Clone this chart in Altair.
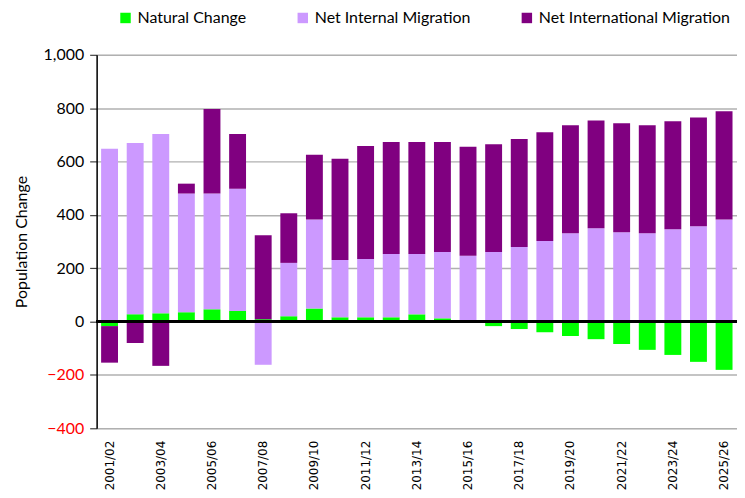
import altair as alt
import pandas as pd

years = ["2001/02", "2002/03", "2003/04", "2004/05", "2005/06", "2006/07", "2007/08",
         "2008/09", "2009/10", "2010/11", "2011/12", "2012/13", "2013/14", "2014/15",
         "2015/16", "2016/17", "2017/18", "2018/19", "2019/20", "2020/21", "2021/22",
         "2022/23", "2023/24", "2024/25", "2025/26"]

natural = [-17, 27, 31, 35, 46, 40, 9, 20, 49, 16, 16, 16, 27, 12, 1, -17, -28, -40,
           -54, -66, -84, -106, -125, -151, -181]
internal = [648, 642, 672, 445, 434, 458, -162, 200, 334, 215, 219, 237, 226, 249, 246,
            261, 280, 302, 331, 350, 335, 331, 346, 357, 383]
international = [-137, -80, -166, 37, 317, 205, 315, 186, 242, 379, 423, 420, 420, 412,
                 408, 404, 404, 408, 405, 404, 408, 405, 405, 408, 405]

series = ["Natural Change", "Net Internal Migration", "Net International Migration"]
colors = ["#00FF00", "#CC99FF", "#800080"]

rows = []
for i, y in enumerate(years):
    for k, (name, vals) in enumerate(zip(series, [natural, internal, international])):
        rows.append({"Year": y, "Component": name, "Value": vals[i], "order": k})
df = pd.DataFrame(rows)

bars = alt.Chart(df).mark_bar().encode(
    x=alt.X("Year:N", sort=years,
            scale=alt.Scale(paddingInner=0.34, paddingOuter=0.175),
            axis=alt.Axis(title=None, values=years[::2], labelAngle=-90, ticks=False,
                          domain=False, labelPadding=12, labelFont="DejaVu Sans",
                          labelFontSize=12, labelColor="black")),
    y=alt.Y("Value:Q", stack="zero",
            scale=alt.Scale(domain=[-400, 1000], nice=False),
            axis=alt.Axis(title="Population Change", values=list(range(-400, 1001, 200)),
                          format=",d", labelFont="Lato", labelFontSize=16,
                          labelColor=alt.condition("datum.value < 0", alt.value("red"), alt.value("black")),
                          titleFont="Lato", titleFontSize=16, titleFontWeight="normal",
                          titleColor="black", titlePadding=14,
                          domainColor="black", domainWidth=1.5,
                          tickColor="#404040", tickSize=7, tickWidth=1.2,
                          gridColor="#b0b0b0", gridWidth=1.5, labelPadding=6)),
    color=alt.Color("Component:N", scale=alt.Scale(domain=series, range=colors),
                    legend=alt.Legend(title=None, orient="none", direction="horizontal",
                                      legendX=21, legendY=-45, symbolType="square",
                                      symbolSize=110, symbolStrokeWidth=0, symbolOpacity=1,
                                      labelFont="Lato", labelFontSize=16, labelColor="black",
                                      labelLimit=0, columnPadding=48, labelOffset=4)),
    order=alt.Order("order:Q"),
)

zero = alt.Chart(df).mark_rule(color="black", strokeWidth=1.5).encode(y=alt.datum(0))

chart = alt.layer(bars, zero).properties(
    width=643, height=375,
    autosize=alt.AutoSizeParams(type="none"),
    padding={"left": 89, "top": 46, "right": 0, "bottom": 68},
).configure_view(stroke="#b0b0b0", strokeWidth=1.5).configure(background="white")

chart.save("out.html", embed_options={"renderer": "svg", "actions": False})
